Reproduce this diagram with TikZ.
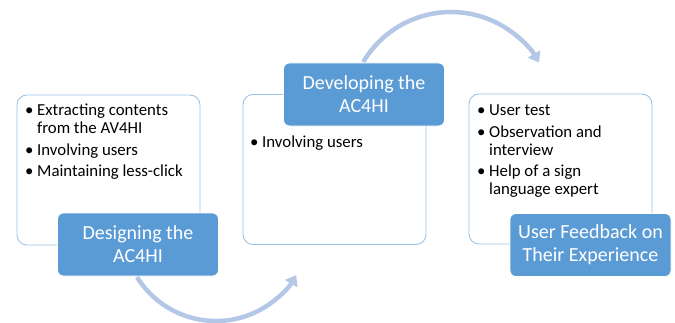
\documentclass[tikz,border=0pt]{standalone}
\usepackage{fontspec}
\setmainfont{Carlito}
\usetikzlibrary{arrows.meta,calc}
\definecolor{boxblue}{HTML}{5B9BD5}
\definecolor{edgeblue}{HTML}{9DC3E6}
\definecolor{arcblue}{HTML}{B4C7E7}
\newcommand{\bul}{\makebox[12pt][l]{•}}
\begin{document}
\begin{tikzpicture}[x=1pt,y=1pt,
  panel/.style={draw=edgeblue, line width=0.9pt, rounded corners=10pt, fill=white,
    minimum width=183pt, minimum height=150pt, inner sep=0pt},
  titlebox/.style={draw=white, line width=0.8pt, fill=boxblue, rounded corners=6pt,
    text=white, font=\fontsize{20}{23}\selectfont, align=center,
    minimum width=161pt, minimum height=63pt, inner sep=0pt},
  listtext/.style={anchor=base west, inner sep=0pt, font=\fontsize{16.8}{18}\selectfont},
  cyclearrow/.style={draw=arcblue, line width=4.5pt, -{Triangle[width=14pt,length=10pt]}}]
\useasboundingbox (0,0) rectangle (675,322);
% arcs (behind boxes)
\coordinate (a1) at ($(216,94)+(211.8:93)$);
\coordinate (a2) at ($(451,208)+(149.4:102)$);
\draw[cyclearrow] (a1) arc[start angle=211.8, end angle=329.6, radius=93pt];
\draw[cyclearrow] (a2) arc[start angle=149.4, end angle=30.3, radius=102pt];
% panels
\node[panel] (p1) at (108.5,152) {};
\node[panel] (p2) at (334.5,152.5) {};
\node[panel] (p3) at (560.5,153) {};
% lists
\node[listtext] (l1) at (25,207) {\begin{tabular}[t]{@{}l@{}l@{}}
\bul& Extracting contents\\
 & from the AV4HI\\[4pt]
\bul& Involving users\\[4pt]
\bul& Maintaining less-click
\end{tabular}};
\node[listtext] (l2) at (250,175) {\begin{tabular}[t]{@{}l@{}l@{}}
\bul& Involving users
\end{tabular}};
\node[listtext] (l3) at (477,207) {\begin{tabular}[t]{@{}l@{}l@{}}
\bul& User test\\[4pt]
\bul& Observation and\\
 & interview\\[4pt]
\bul& Help of a sign\\
 & language expert
\end{tabular}};
% title boxes
\node[titlebox] (t1) at (138,77.5) {Designing the\\AC4HI};
\node[titlebox] (t2) at (364,227.5) {Developing the\\AC4HI};
\node[titlebox] (t3) at (590.5,77) {User Feedback on\\Their Experience};
\end{tikzpicture}
\end{document}
